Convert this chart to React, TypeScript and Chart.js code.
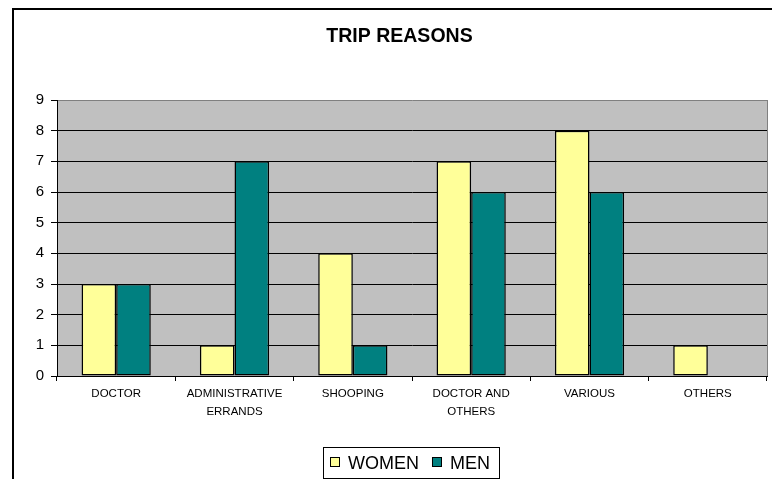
import { useEffect, useRef } from 'react';
import { Chart, registerables } from 'chart.js';

Chart.register(...registerables);

const chartTitle = 'TRIP REASONS';
const categories: (string | string[])[] = [
  'DOCTOR',
  ['ADMINISTRATIVE', 'ERRANDS'],
  'SHOOPING',
  ['DOCTOR AND', 'OTHERS'],
  'VARIOUS',
  'OTHERS',
];
const seriesNames = ['WOMEN', 'MEN'];
const womenValues = [3, 1, 4, 7, 8, 1];
const menValues = [3, 7, 1, 6, 6, 0];
const yMin = 0;
const yMax = 9;
const yStep = 1;

const FONT = '"Liberation Sans", Arial, Helvetica, sans-serif';
const YELLOW = '#FFFF99';
const TEAL = '#008080';
const PLOT_BG = '#C0C0C0';

export default function App() {
  const ref = useRef<HTMLCanvasElement>(null);

  useEffect(() => {
    document.body.style.margin = '0';
    const canvas = ref.current;
    if (!canvas) return;

    const decorPlugin = {
      id: 'decor',
      beforeDraw(chart: any) {
        const { ctx, chartArea: a } = chart;
        ctx.save();
        ctx.fillStyle = '#FFFFFF';
        ctx.fillRect(0, 0, chart.width, chart.height);
        ctx.fillStyle = PLOT_BG;
        ctx.fillRect(a.left, a.top, a.right - a.left, a.bottom - a.top);
        // outer frame
        ctx.strokeStyle = '#000';
        ctx.lineWidth = 2;
        ctx.beginPath();
        ctx.moveTo(13, chart.height + 4);
        ctx.lineTo(13, 9);
        ctx.lineTo(chart.width + 4, 9);
        ctx.stroke();
        ctx.restore();
      },
      afterDraw(chart: any) {
        const { ctx, chartArea: a } = chart;
        ctx.save();
        // right plot border
        ctx.strokeStyle = '#808080';
        ctx.lineWidth = 1;
        ctx.beginPath();
        ctx.moveTo(Math.round(a.right) + 0.5, a.top);
        ctx.lineTo(Math.round(a.right) + 0.5, a.bottom);
        ctx.stroke();

        // legend
        const ds = chart.data.datasets;
        ctx.font = `18px ${FONT}`;
        const sq = 10, gap = 8, spacing = 13, padL = 6, padR = 10;
        const widths = ds.map((d: any) => ctx.measureText(d.label).width);
        const total = widths.reduce((s: number, w: number) => s + sq + gap + w, 0) + spacing * (ds.length - 1);
        const boxW = Math.round(padL + total + padR);
        const boxLeft = Math.round(411 - boxW / 2) + 0.5;
        const boxTop = 447.5;
        const boxH = 31;
        ctx.strokeStyle = '#000';
        ctx.lineWidth = 1;
        ctx.strokeRect(boxLeft, boxTop, boxW, boxH);
        let x = Math.round(boxLeft + padL);
        ds.forEach((d: any, i: number) => {
          ctx.fillStyle = d.backgroundColor;
          ctx.fillRect(x, 457, sq, sq);
          ctx.strokeStyle = '#000';
          ctx.strokeRect(x + 0.5, 457.5, sq - 1, sq - 1);
          ctx.fillStyle = '#000';
          ctx.textBaseline = 'alphabetic';
          ctx.textAlign = 'left';
          ctx.fillText(d.label, x + sq + gap, 469);
          x += sq + gap + widths[i] + spacing;
        });
        ctx.restore();
      },
    };

    const barBorder = (c: any) => (c.raw === 0 ? 0 : 1.5);

    const chart = new Chart(canvas, {
      type: 'bar',
      data: {
        labels: categories,
        datasets: [
          {
            label: seriesNames[0],
            data: womenValues,
            backgroundColor: YELLOW,
            borderColor: '#000',
            borderWidth: barBorder,
            borderSkipped: false,
            categoryPercentage: 0.585,
            barPercentage: 1,
          },
          {
            label: seriesNames[1],
            data: menValues,
            backgroundColor: TEAL,
            borderColor: '#000',
            borderWidth: barBorder,
            borderSkipped: false,
            categoryPercentage: 0.585,
            barPercentage: 1,
          },
        ],
      },
      options: {
        responsive: false,
        animation: false,
        events: [],
        layout: { padding: { left: 32, right: 5, top: 0, bottom: 0 } },
        plugins: {
          legend: { display: false },
          tooltip: { enabled: false },
          title: {
            display: true,
            text: chartTitle,
            color: '#000',
            font: { family: FONT, size: 19.5, weight: 'bold', lineHeight: 1.2 },
            padding: { top: 24.8, bottom: 51.8 },
          },
        },
        scales: {
          x: {
            offset: true,
            grid: {
              display: true,
              drawOnChartArea: false,
              drawTicks: true,
              tickLength: 5,
              color: '#000',
              offset: true,
            },
            border: { display: true, color: '#000', width: 1 },
            ticks: {
              color: '#000',
              font: { family: FONT, size: 11.5, lineHeight: 18 / 11.5 },
              padding: 4,
              maxRotation: 0,
              autoSkip: false,
            },
            afterFit: (s: any) => {
              s.height = 103;
            },
          },
          y: {
            min: yMin,
            max: yMax,
            ticks: {
              stepSize: yStep,
              color: '#000',
              font: { family: FONT, size: 15 },
              padding: 7,
            },
            grid: {
              color: (c: any) => (c.tick && c.tick.value === yMax ? '#808080' : '#000'),
              tickColor: '#000',
              tickLength: 6,
              lineWidth: 1,
            },
            border: { display: true, color: '#000', width: 1 },
            afterFit: (s: any) => {
              s.width = 25;
            },
          },
        },
      },
      plugins: [decorPlugin],
    } as any);

    return () => chart.destroy();
  }, []);

  return (
    <div style={{ width: 772, height: 479, position: 'relative' }}>
      <canvas ref={ref} width={772} height={479} style={{ display: 'block' }} />
    </div>
  );
}
